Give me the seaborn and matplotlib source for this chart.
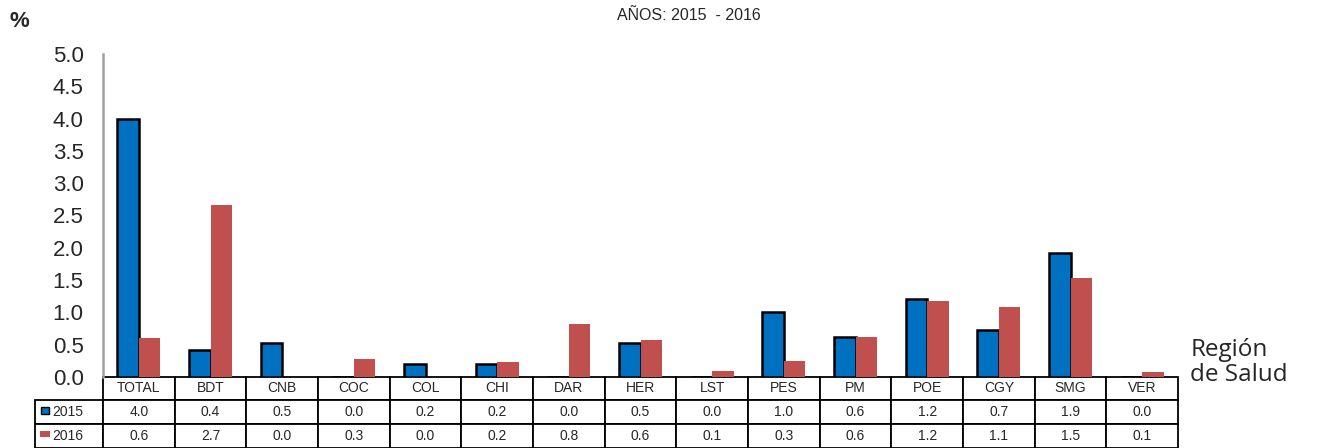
import matplotlib
matplotlib.use("Agg")
import matplotlib.pyplot as plt
import seaborn as sns
import pandas as pd
from matplotlib.table import Table
from matplotlib.patches import Rectangle

# ---- data ----
regions = ['TOTAL', 'BDT', 'CNB', 'COC', 'COL', 'CHI', 'DAR', 'HER',
           'LST', 'PES', 'PM', 'POE', 'CGY', 'SMG', 'VER']
v2015 = [4.0, 0.42, 0.52, 0.0, 0.2, 0.2, 0.0, 0.52, 0.0, 1.0, 0.62, 1.2, 0.72, 1.92, 0.0]
v2016 = [0.6, 2.66, 0.0, 0.28, 0.0, 0.23, 0.82, 0.58, 0.1, 0.25, 0.62, 1.17, 1.09, 1.54, 0.07]
tab2015 = ['4.0', '0.4', '0.5', '0.0', '0.2', '0.2', '0.0', '0.5', '0.0', '1.0', '0.6', '1.2', '0.7', '1.9', '0.0']
tab2016 = ['0.6', '2.7', '0.0', '0.3', '0.0', '0.2', '0.8', '0.6', '0.1', '0.3', '0.6', '1.2', '1.1', '1.5', '0.1']
years = ['2015', '2016']
yticks = [0.0, 0.5, 1.0, 1.5, 2.0, 2.5, 3.0, 3.5, 4.0, 4.5, 5.0]

df = pd.DataFrame({
    'region': regions * 2,
    'year': ['2015'] * len(regions) + ['2016'] * len(regions),
    'value': v2015 + v2016,
})

sns.set_style("white")
plt.rcParams['font.family'] = ['Liberation Sans', 'DejaVu Sans']

BLUE = '#0070C0'
RED = '#C0504D'

fig = plt.figure(figsize=(13.24, 4.48), dpi=100)
ax = fig.add_axes([0.0778, 0.1585, 0.812, 0.721])

sns.barplot(data=df, x='region', y='value', hue='year', order=regions,
            hue_order=years, palette=[BLUE, RED], width=0.6,
            saturation=1, legend=False, ax=ax)

# blue bars get a black outline
for bar in ax.containers[0]:
    bar.set_edgecolor('black')
    bar.set_linewidth(1.8)
for bar in ax.containers[1]:
    bar.set_linewidth(0)

ax.set_ylim(0, 5)
ax.set_xlim(-0.5, len(regions) - 0.5)
ax.set_yticks(yticks)
ax.set_yticklabels([f"{t:.1f}" for t in yticks], fontsize=16)
ax.tick_params(axis='y', direction='out', length=8, width=1.5, color='#a0a0a0', pad=6)
ax.set_xticks([])
ax.set_xlabel('')
ax.set_ylabel('')
for s in ['top', 'right', 'bottom']:
    ax.spines[s].set_visible(False)
ax.spines['left'].set_color('#a0a0a0')
ax.spines['left'].set_linewidth(1.8)

# ---- data table under the bars ----
ncol = len(regions)
cw = 1.0 / ncol
lw = 0.0633
h_head, h_row = 0.0712, 0.0743
tot_h = h_head + 2 * h_row
tbl = Table(ax, bbox=[0, -tot_h, 1, tot_h])
tbl.auto_set_font_size(False)
for j, r in enumerate(regions):
    tbl.add_cell(0, j, width=cw, height=h_head, text=r, loc='center')
for i, vals in enumerate([tab2015, tab2016], start=1):
    c = tbl.add_cell(i, -1, width=lw, height=h_row, text=years[i - 1], loc='left')
    c.PAD = 0.26
    for j, v in enumerate(vals):
        tbl.add_cell(i, j, width=cw, height=h_row, text=v, loc='center')
for cell in tbl.get_celld().values():
    cell.set_edgecolor('black')
    cell.set_linewidth(1.3)
    cell.get_text().set_fontsize(10)
ax.add_table(tbl)

# legend keys inside the row-label cells
ax.add_patch(Rectangle((-0.0577, -0.1146), 0.0074, 0.0217, transform=ax.transAxes,
                       facecolor=BLUE, edgecolor='black', linewidth=1, clip_on=False, zorder=5))
ax.add_patch(Rectangle((-0.0586, -0.1858), 0.0093, 0.0186, transform=ax.transAxes,
                       facecolor=RED, edgecolor='none', clip_on=False, zorder=5))

# ---- texts ----
fig.text(0.52, 0.966, 'AÑOS: 2015  - 2016', ha='center', va='center', fontsize=11.5)
fig.text(0.007, 0.951, '%', ha='left', va='center', fontsize=16, fontweight='bold')
fig.text(0.899, 0.2054, 'Región', ha='left', va='baseline', fontsize=17.5,
         family=['Open Sans', 'DejaVu Sans'])
fig.text(0.899, 0.1496, 'de Salud', ha='left', va='baseline', fontsize=17.5,
         family=['Open Sans', 'DejaVu Sans'])

plt.savefig('out.png', dpi=100)
